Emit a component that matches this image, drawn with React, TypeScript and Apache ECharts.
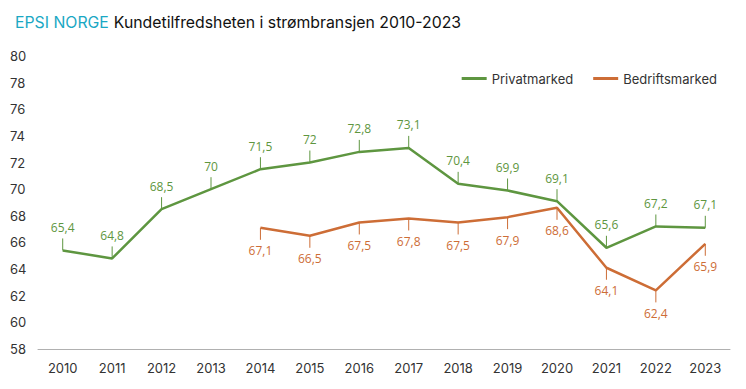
import React, { useEffect, useRef } from "react";
import * as echarts from "echarts";

const years = ["2010","2011","2012","2013","2014","2015","2016","2017","2018","2019","2020","2021","2022","2023"];
const privat = [65.4, 64.8, 68.5, 70, 71.5, 72, 72.8, 73.1, 70.4, 69.9, 69.1, 65.6, 67.2, 67.1];
const bedrift = [null, null, null, null, 67.1, 66.5, 67.5, 67.8, 67.5, 67.9, 68.6, 64.1, 62.4, 65.9];
const yTicks = { min: 58, max: 80, interval: 2 };

const GREEN = "#5e9640";
const ORANGE = "#cd6d36";

const fmt = (v: number) => String(v).replace(".", ",");

function labelSeries(name: string, values: (number | null)[], color: string, dir: number) {
  const data = values
    .map((v, i) => (v == null ? null : [i, v]))
    .filter((d) => d != null);
  return {
    type: "custom",
    name: name + "-labels",
    silent: true,
    z: 5,
    data,
    encode: { x: 0, y: 1 },
    renderItem: (params: any, api: any) => {
      const idx = api.value(0);
      const val = api.value(1);
      const p = api.coord([idx, val]);
      const x = p[0];
      const y = p[1];
      return {
        type: "group",
        children: [
          {
            type: "line",
            shape: { x1: x, y1: y, x2: x, y2: y - dir * 12 },
            style: { stroke: color, lineWidth: 1 },
          },
          {
            type: "text",
            style: {
              text: fmt(val),
              x: x,
              y: y - dir * 23,
              align: "center",
              verticalAlign: "middle",
              fill: color,
              font: "12px 'Open Sans', sans-serif",
            },
          },
        ],
      };
    },
  };
}

export default function App() {
  const ref = useRef<HTMLDivElement>(null);
  useEffect(() => {
    if (!ref.current) return;
    const chart = echarts.init(ref.current, null, { renderer: "svg" });
    chart.setOption({
      animation: false,
      backgroundColor: "#ffffff",
      title: {
        text: "{a|EPSI NORGE} {b|Kundetilfredsheten i strømbransjen 2010-2023}",
        left: 10,
        top: 8,
        textStyle: {
          rich: {
            a: { color: "#1aa8c4", fontSize: 15.8, fontWeight: "normal", fontFamily: "Inter" },
            b: { color: "#111111", fontSize: 15.8, fontWeight: "normal", fontFamily: "Inter" },
          },
        },
      },
      legend: {
        data: ["Privatmarked", "Bedriftsmarked"],
        right: 24,
        top: 67,
        icon: "rect",
        itemWidth: 25,
        itemHeight: 3,
        itemGap: 20,
        textStyle: { color: "#333333", fontSize: 13, fontFamily: "Inter" },
      },
      grid: { left: 38, right: 16, top: 56, bottom: 40 },
      xAxis: {
        type: "category",
        data: years,
        boundaryGap: true,
        axisLine: { lineStyle: { color: "#b0b0b0", width: 1 } },
        axisTick: { alignWithLabel: true, inside: true, length: 4, lineStyle: { color: "#b0b0b0" } },
        axisLabel: { color: "#333333", fontSize: 13, fontFamily: "Inter", margin: 12 },
      },
      yAxis: {
        type: "value",
        min: yTicks.min,
        max: yTicks.max,
        interval: yTicks.interval,
        splitLine: { show: false },
        axisLine: { show: false },
        axisTick: { show: false },
        axisLabel: { color: "#333333", fontSize: 13, fontFamily: "Inter", align: "left", margin: 28 },
      },
      series: [
        {
          type: "line",
          name: "Privatmarked",
          data: privat,
          showSymbol: false,
          symbol: "none",
          lineStyle: { color: GREEN, width: 2.5 },
          itemStyle: { color: GREEN },
        },
        {
          type: "line",
          name: "Bedriftsmarked",
          data: bedrift,
          showSymbol: false,
          symbol: "none",
          lineStyle: { color: ORANGE, width: 2.5 },
          itemStyle: { color: ORANGE },
        },
        labelSeries("Privatmarked", privat, GREEN, 1),
        labelSeries("Bedriftsmarked", bedrift, ORANGE, -1),
      ],
    });
    return () => chart.dispose();
  }, []);
  return <div ref={ref} style={{ width: 746, height: 389, position: "absolute", left: 0, top: 0 }} />;
}
